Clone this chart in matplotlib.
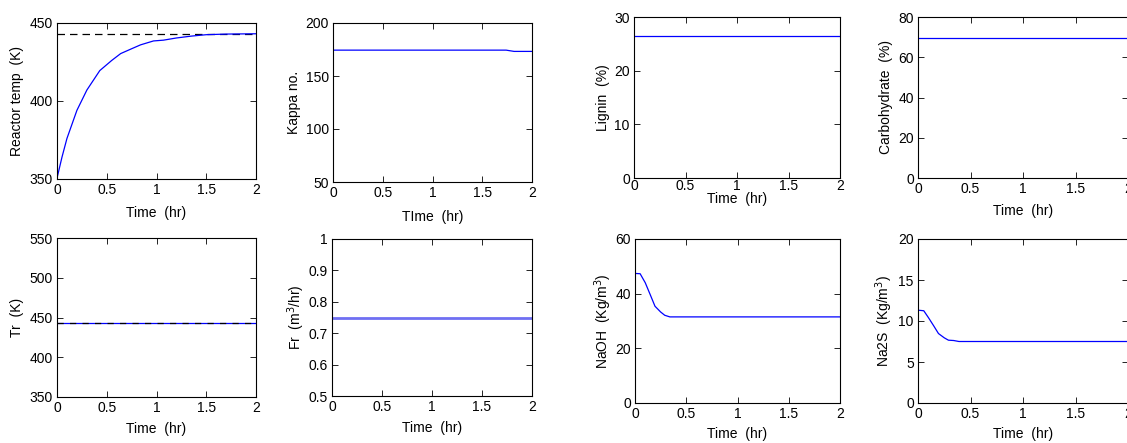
import matplotlib
matplotlib.use("Agg")
import matplotlib.pyplot as plt

plt.rcParams['font.family'] = ['Liberation Sans', 'DejaVu Sans']
plt.rcParams['font.size'] = 10

# ---- data ----
t_temp = [0.0, 0.05, 0.1, 0.2, 0.3, 0.43, 0.55, 0.64, 0.75, 0.84, 0.97, 1.07, 1.2, 1.35, 1.5, 1.7, 2.0]
reactor_temp = [350.5, 364, 376, 394, 407, 419.5, 426, 430.4, 433.5, 436, 438.5, 439, 440.4, 441.6, 442.5, 442.9, 443.1]
temp_setpoint = 443.2

t_kappa = [0.0, 1.74, 1.82, 2.0]
kappa = [174.4, 174.4, 173.2, 173.2]

t_flat = [0.0, 2.0]
lignin = [26.4, 26.4]
carbohydrate = [69.8, 69.8]
tr = [443.0, 443.0]
fr = [0.75, 0.75]

t_naoh = [0.0, 0.05, 0.1, 0.15, 0.195, 0.25, 0.29, 0.34, 2.0]
naoh = [47.4, 47.3, 44.0, 39.5, 35.4, 33.3, 32.1, 31.5, 31.5]

t_na2s = [0.0, 0.055, 0.1, 0.15, 0.195, 0.25, 0.29, 0.34, 0.39, 2.0]
na2s = [11.32, 11.25, 10.4, 9.4, 8.47, 7.95, 7.66, 7.62, 7.5, 7.5]

x_ticks = [0, 0.5, 1, 1.5, 2]
x_ticklabels = ['0', '0.5', '1', '1.5', '2']

W, H = 1127, 443
fig = plt.figure(figsize=(W / 100, H / 100), dpi=100)


def make_axes(left, right, top, bottom, xpad=3):
    ax = fig.add_axes([left / W, 1 - bottom / H, (right - left) / W, (bottom - top) / H])
    ax.set_xlim(0, 2)
    ax.set_xticks(x_ticks)
    ax.set_xticklabels(x_ticklabels)
    ax.tick_params(direction='in', top=True, right=True, length=4, width=0.6,
                   labelsize=10)
    ax.tick_params(axis='x', pad=xpad)
    ax.tick_params(axis='y', pad=3)
    for s in ax.spines.values():
        s.set_linewidth(0.8)
    return ax


# Reactor temperature
ax = make_axes(57, 256, 23, 179)
ax.axhline(temp_setpoint, color='k', ls=(0, (6, 4)), lw=0.9)
ax.plot(t_temp, reactor_temp, color='#0000ff', lw=0.9)
ax.set_ylim(350, 450)
ax.set_yticks([350, 400, 450])
ax.set_ylabel('Reactor temp  (K)', labelpad=4)
ax.set_xlabel('Time  (hr)', labelpad=6)

# Kappa number
ax = make_axes(333, 532, 23, 182)
ax.plot(t_kappa, kappa, color='#0000ff', lw=0.9)
ax.set_ylim(50, 200)
ax.set_yticks([50, 100, 150, 200])
ax.set_ylabel('Kappa no.', labelpad=3)
ax.set_xlabel('TIme  (hr)', labelpad=7)

# Lignin
ax = make_axes(634, 840, 17, 178, xpad=1)
ax.plot(t_flat, lignin, color='#0000ff', lw=0.9)
ax.set_ylim(0, 30)
ax.set_yticks([0, 10, 20, 30])
ax.set_ylabel('Lignin  (%)', labelpad=3)
ax.set_xlabel('Time  (hr)', labelpad=-1)

# Carbohydrate
ax = make_axes(918, 1128, 17, 178)
ax.plot(t_flat, carbohydrate, color='#0000ff', lw=0.9)
ax.set_ylim(0, 80)
ax.set_yticks([0, 20, 40, 60, 80])
ax.set_ylabel('Carbohydrate  (%)', labelpad=4)
ax.set_xlabel('Time  (hr)', labelpad=5.5)

# Reactor inlet temperature
ax = make_axes(57, 256, 238, 397)
ax.plot(t_flat, tr, color='#0000ff', lw=0.9)
ax.plot(t_flat, tr, color='k', ls=(0, (5, 5)), lw=0.9)
ax.set_ylim(350, 550)
ax.set_yticks([350, 400, 450, 500, 550])
ax.set_ylabel('Tr  (K)', labelpad=4)
ax.set_xlabel('Time  (hr)', labelpad=5)

# Flow rate
ax = make_axes(332, 532, 239, 396)
ax.plot(t_flat, fr, color='#6f6ff2', lw=2.0)
ax.set_ylim(0.5, 1.0)
ax.set_yticks([0.5, 0.6, 0.7, 0.8, 0.9, 1.0])
ax.set_yticklabels(['0.5', '0.6', '0.7', '0.8', '0.9', '1'])
ax.set_ylabel('Fr  (m$^3$/hr)', labelpad=1)
ax.set_xlabel('Time  (hr)', labelpad=5)

# NaOH concentration
ax = make_axes(635, 840, 239, 403)
ax.plot(t_naoh, naoh, color='#0000ff', lw=0.9)
ax.set_ylim(0, 60)
ax.set_yticks([0, 20, 40, 60])
ax.set_ylabel('NaOH  (Kg/m$^3$)', labelpad=1)
ax.set_xlabel('Time  (hr)', labelpad=4)

# Na2S concentration
ax = make_axes(918, 1128, 239, 403)
ax.plot(t_na2s, na2s, color='#0000ff', lw=0.9)
ax.set_ylim(0, 20)
ax.set_yticks([0, 5, 10, 15, 20])
ax.set_ylabel('Na2S  (Kg/m$^3$)', labelpad=2)
ax.set_xlabel('Time  (hr)', labelpad=4)

fig.savefig('out.png', dpi=100)
